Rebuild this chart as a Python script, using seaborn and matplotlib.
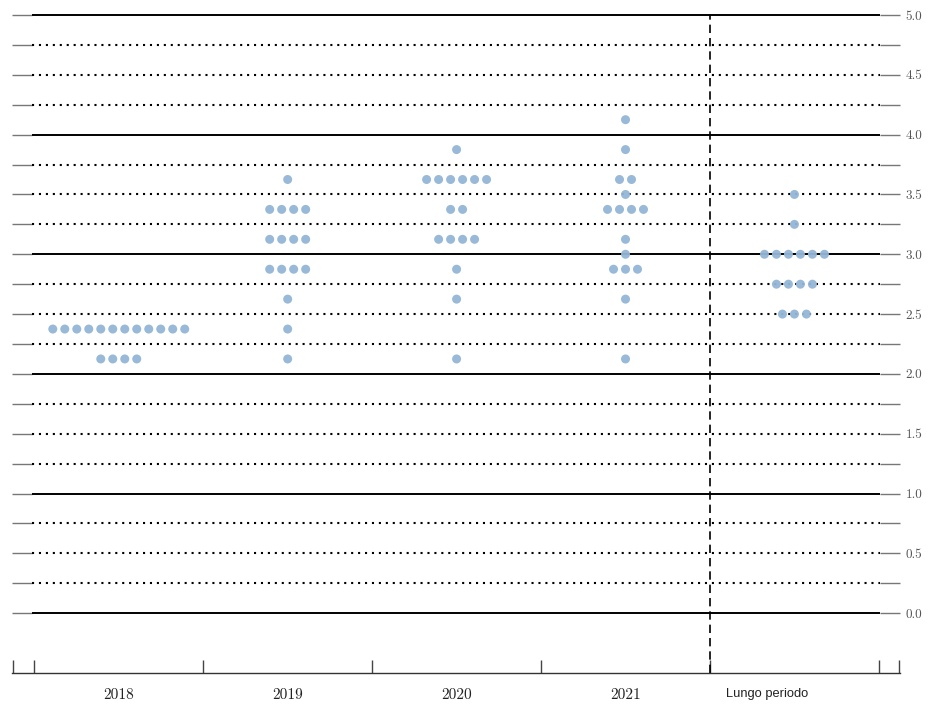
import numpy as np
import pandas as pd
import matplotlib
matplotlib.use("Agg")
import matplotlib.pyplot as plt
import seaborn as sns

# ---- data ----
categories = ["2018", "2019", "2020", "2021", "Lungo periodo"]
rates_2018 = [2.375, 2.125]
counts_2018 = [12, 4]
rates_2019 = [3.625, 3.375, 3.125, 2.875, 2.625, 2.375, 2.125]
counts_2019 = [1, 4, 4, 4, 1, 1, 1]
rates_2020 = [3.875, 3.625, 3.375, 3.125, 2.875, 2.625, 2.125]
counts_2020 = [1, 6, 2, 4, 1, 1, 1]
rates_2021 = [4.125, 3.875, 3.625, 3.5, 3.375, 3.125, 3.0, 2.875, 2.625, 2.125]
counts_2021 = [1, 1, 2, 1, 4, 1, 1, 3, 1, 1]
rates_lr = [3.5, 3.25, 3.0, 2.75, 2.5]
counts_lr = [1, 1, 6, 4, 3]
y_tick_values = [0.0, 0.5, 1.0, 1.5, 2.0, 2.5, 3.0, 3.5, 4.0, 4.5, 5.0]
y_tick_labels = ["0.0", "0.5", "1.0", "1.5", "2.0", "2.5", "3.0", "3.5", "4.0", "4.5", "5.0"]

all_rates = [rates_2018, rates_2019, rates_2020, rates_2021, rates_lr]
all_counts = [counts_2018, counts_2019, counts_2020, counts_2021, counts_lr]

# ---- build dot table ----
dot_step = 12 / 169
rows = []
for ci, (rates, counts) in enumerate(zip(all_rates, all_counts)):
    for r, n in zip(rates, counts):
        for i in range(n):
            rows.append({"x": ci + (i - (n - 1) / 2) * dot_step, "rate": r,
                         "cat": categories[ci]})
df = pd.DataFrame(rows)

sns.set_theme(style="white")
plt.rcParams["axes.unicode_minus"] = False

fig = plt.figure(figsize=(9.37, 7.10), dpi=100)
ax = fig.add_axes([12 / 937, 37 / 710, 888 / 937, 658 / 710])
ax.set_facecolor("white")

# horizontal grid lines
levels = np.arange(0, 5.001, 0.25)
for lv in levels:
    if abs(lv - round(lv)) < 1e-9:
        ax.hlines(lv, -0.512, 4.506, color="black", lw=1.4, zorder=1,
                  clip_on=False)
    else:
        ax.hlines(lv, -0.512, 4.506, color="black", lw=1.5,
                  linestyle=(0, (1, 2.33)), zorder=1, clip_on=False)

# vertical dashed separator
ax.axvline(3.5, color="black", lw=1.2, linestyle=(0, (5, 3)), zorder=2)

sns.scatterplot(data=df, x="x", y="rate", color="#94b6d6", s=42,
                edgecolor="none", alpha=0.95, ax=ax, zorder=3, legend=False)

ax.set_xlim(-0.632, 4.625)
ax.set_ylim(-0.5, 5.0)
ax.set_xlabel("")
ax.set_ylabel("")

for s in ["top", "left", "right"]:
    ax.spines[s].set_visible(False)
ax.spines["bottom"].set_color("#333333")
ax.spines["bottom"].set_linewidth(1.0)

# y ticks both sides, labels right
ax.set_yticks(y_tick_values)
ax.set_yticks(np.arange(0.25, 5.0, 0.5), minor=True)
ax.set_yticklabels(y_tick_labels)
ax.tick_params(axis="y", which="both", left=True, right=True, labelleft=False,
               labelright=True, direction="in", length=14.4, width=1.0,
               color="#777777", pad=4)
for lab in ax.get_yticklabels():
    lab.set_family("cmr10")
    lab.set_fontsize(9.5)
    lab.set_color("#555555")

# x ticks
label_pos = [0, 1, 2, 3, 3.84]
ax.set_xticks(label_pos)
ax.set_xticklabels(categories)
ax.set_xticks([-0.625, -0.5, 0.5, 1.5, 2.5, 3.5, 4.5, 4.618], minor=True)
ax.tick_params(axis="x", which="major", length=0, pad=11, bottom=True)
ax.tick_params(axis="x", which="minor", direction="in", length=9.4,
               width=1.0, color="#444444", bottom=True)
for lab in ax.get_xticklabels():
    if lab.get_text() == "Lungo periodo":
        lab.set_family(["Liberation Sans Narrow", "Liberation Sans", "DejaVu Sans"])
        lab.set_fontsize(9.3)
    else:
        lab.set_family("cmr10")
        lab.set_fontsize(11)
    lab.set_color("#222222")

fig.savefig("out.png", dpi=100, facecolor="white")
